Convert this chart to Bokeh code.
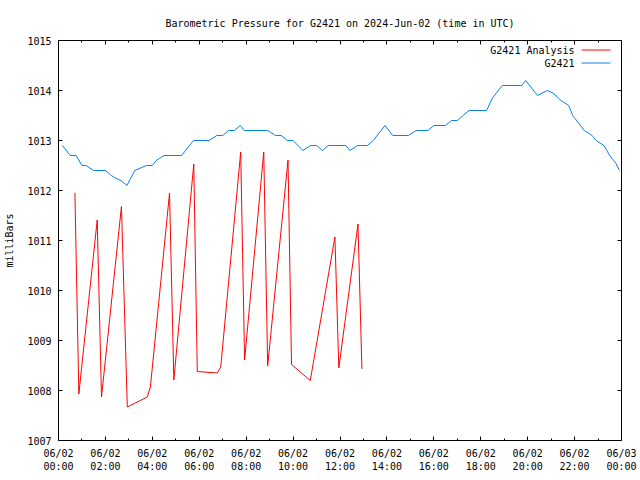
from bokeh.plotting import figure
from bokeh.models import Range1d, FixedTicker, Label, Arrow, LinearAxis
from bokeh.embed import file_html
from bokeh.resources import INLINE

# ---- data ----
obs_times = ["00:10", "00:30", "00:45", "01:00", "01:10", "01:30", "02:00", "02:15", "02:25",
             "02:40", "02:55", "03:15", "03:30", "03:45", "04:00", "04:10", "04:30", "05:15",
             "05:45", "06:25", "06:45", "07:00", "07:15", "07:30", "07:45", "07:55", "08:55",
             "09:15", "09:30", "09:45", "10:00", "10:25", "10:45", "11:00", "11:15", "11:30",
             "12:15", "12:25", "12:45", "13:10", "13:25", "13:55", "14:15", "14:55", "15:15",
             "15:45", "16:00", "16:30", "16:45", "17:00", "17:15", "17:30", "18:15", "18:30",
             "18:55", "19:45", "19:55", "20:10", "20:25", "20:50", "21:05", "21:25", "21:45",
             "21:55", "22:25", "22:45", "22:55", "23:15", "23:30", "23:45", "23:55"]
obs_mb = [1012.9, 1012.7, 1012.7, 1012.5, 1012.5, 1012.4, 1012.4, 1012.3, 1012.25,
          1012.2, 1012.1, 1012.4, 1012.45, 1012.5, 1012.5, 1012.6, 1012.7, 1012.7,
          1013.0, 1013.0, 1013.1, 1013.1, 1013.2, 1013.2, 1013.3, 1013.2, 1013.2,
          1013.1, 1013.1, 1013.0, 1013.0, 1012.8, 1012.9, 1012.9, 1012.8, 1012.9,
          1012.9, 1012.8, 1012.9, 1012.9, 1013.0, 1013.3, 1013.1, 1013.1, 1013.2,
          1013.2, 1013.3, 1013.3, 1013.4, 1013.4, 1013.5, 1013.6, 1013.6, 1013.85,
          1014.1, 1014.1, 1014.2, 1014.05, 1013.9, 1014.0, 1013.95, 1013.8, 1013.7,
          1013.5, 1013.2, 1013.1, 1013.0, 1012.9, 1012.7, 1012.55, 1012.4]

ana_times = ["00:42", "00:52", "01:39", "01:50", "02:41", "02:56", "03:47", "03:55", "04:44",
             "04:55", "05:46", "05:55", "06:46", "06:55", "07:46", "07:56", "08:45", "08:55",
             "09:47", "09:56", "10:44", "11:47", "11:57", "12:46", "12:56"]
ana_mb = [1011.95, 1007.93, 1011.41, 1007.87, 1011.68, 1007.67, 1007.87, 1008.07, 1011.95,
          1008.21, 1012.53, 1008.38, 1008.35, 1008.47, 1012.77, 1008.61, 1012.77, 1008.49,
          1012.61, 1008.52, 1008.20, 1011.07, 1008.45, 1011.33, 1008.43]

tick_hours = [0, 2, 4, 6, 8, 10, 12, 14, 16, 18, 20, 22, 24]
tick_labels = ["06/02\n00:00", "06/02\n02:00", "06/02\n04:00", "06/02\n06:00", "06/02\n08:00",
               "06/02\n10:00", "06/02\n12:00", "06/02\n14:00", "06/02\n16:00", "06/02\n18:00",
               "06/02\n20:00", "06/02\n22:00", "06/03\n00:00"]
minor_hours = [1, 3, 5, 7, 9, 11, 13, 15, 17, 19, 21, 23]
y_ticks = [1007, 1008, 1009, 1010, 1011, 1012, 1013, 1014, 1015]

series_names = ["G2421 Analysis", "G2421"]
series_colors = ["#ff0000", "#0a80f0"]


def to_hours(t):
    h, m = t.split(":")
    return int(h) + int(m) / 60.0


FONT = "DejaVu Sans Mono"
FS = "10px"

p = figure(width=640, height=480, output_backend="svg", toolbar_location=None,
           x_range=Range1d(0, 24), y_range=Range1d(1007, 1015),
           min_border_left=58, min_border_right=19, min_border_top=40, min_border_bottom=40,
           title="Barometric Pressure for G2421 on 2024-Jun-02 (time in UTC)")
p.title.align = "center"
p.title.text_font = FONT
p.title.text_font_size = FS
p.title.text_font_style = "normal"
p.title.text_color = "black"
p.title.standoff = 24
p.grid.visible = False
p.outline_line_color = "black"
p.outline_line_width = 1
p.background_fill_color = "white"
p.border_fill_color = "white"

# bottom axis
xa = p.xaxis[0]
xa.ticker = FixedTicker(ticks=tick_hours, minor_ticks=minor_hours)
xa.major_label_overrides = {h: lab for h, lab in zip(tick_hours, tick_labels)}
# left axis
ya = p.yaxis[0]
ya.ticker = FixedTicker(ticks=y_ticks, minor_ticks=[])
ya.axis_label = "milliBars"
ya.axis_label_text_font_style = "normal"
ya.axis_label_text_font = FONT
ya.axis_label_text_font_size = FS
ya.axis_label_text_color = "black"
ya.axis_label_standoff = 9

for ax in (xa, ya):
    ax.axis_line_color = None
    ax.major_tick_in = 4
    ax.major_tick_out = 0
    ax.minor_tick_in = 2
    ax.minor_tick_out = 0
    ax.major_tick_line_color = "black"
    ax.minor_tick_line_color = "black"
    ax.major_label_text_font = FONT
    ax.major_label_text_font_size = FS
    ax.major_label_text_color = "black"
xa.major_label_standoff = 7
ya.major_label_standoff = 7

# mirrored axes (ticks only)
top = LinearAxis(ticker=FixedTicker(ticks=tick_hours, minor_ticks=minor_hours))
right = LinearAxis(ticker=FixedTicker(ticks=y_ticks, minor_ticks=[]))
for ax in (top, right):
    ax.axis_line_color = None
    ax.major_tick_in = 4
    ax.major_tick_out = 0
    ax.minor_tick_in = 2
    ax.minor_tick_out = 0
    ax.major_tick_line_color = "black"
    ax.minor_tick_line_color = "black"
    ax.major_label_text_font_size = "0px"
    ax.major_label_standoff = 0
    ax.major_label_text_color = None
p.add_layout(top, "above")
p.add_layout(right, "right")

# data lines
p.line([to_hours(t) for t in ana_times], ana_mb, line_color=series_colors[0], line_width=1)
p.line([to_hours(t) for t in obs_times], obs_mb, line_color=series_colors[1], line_width=1)

# gnuplot-style legend (label, then line sample)
leg_y = [1014.81, 1014.55]
for name, col, yy in zip(series_names, series_colors, leg_y):
    p.add_layout(Label(x=22.0, y=yy, text=name, text_align="right", text_baseline="middle",
                       text_font=FONT, text_font_size=FS, text_color="black"))
    p.add_layout(Arrow(end=None, x_start=22.3, y_start=yy, x_end=23.53, y_end=yy,
                       line_color=col, line_width=1))

open("out.html", "w").write(file_html(p, INLINE))
